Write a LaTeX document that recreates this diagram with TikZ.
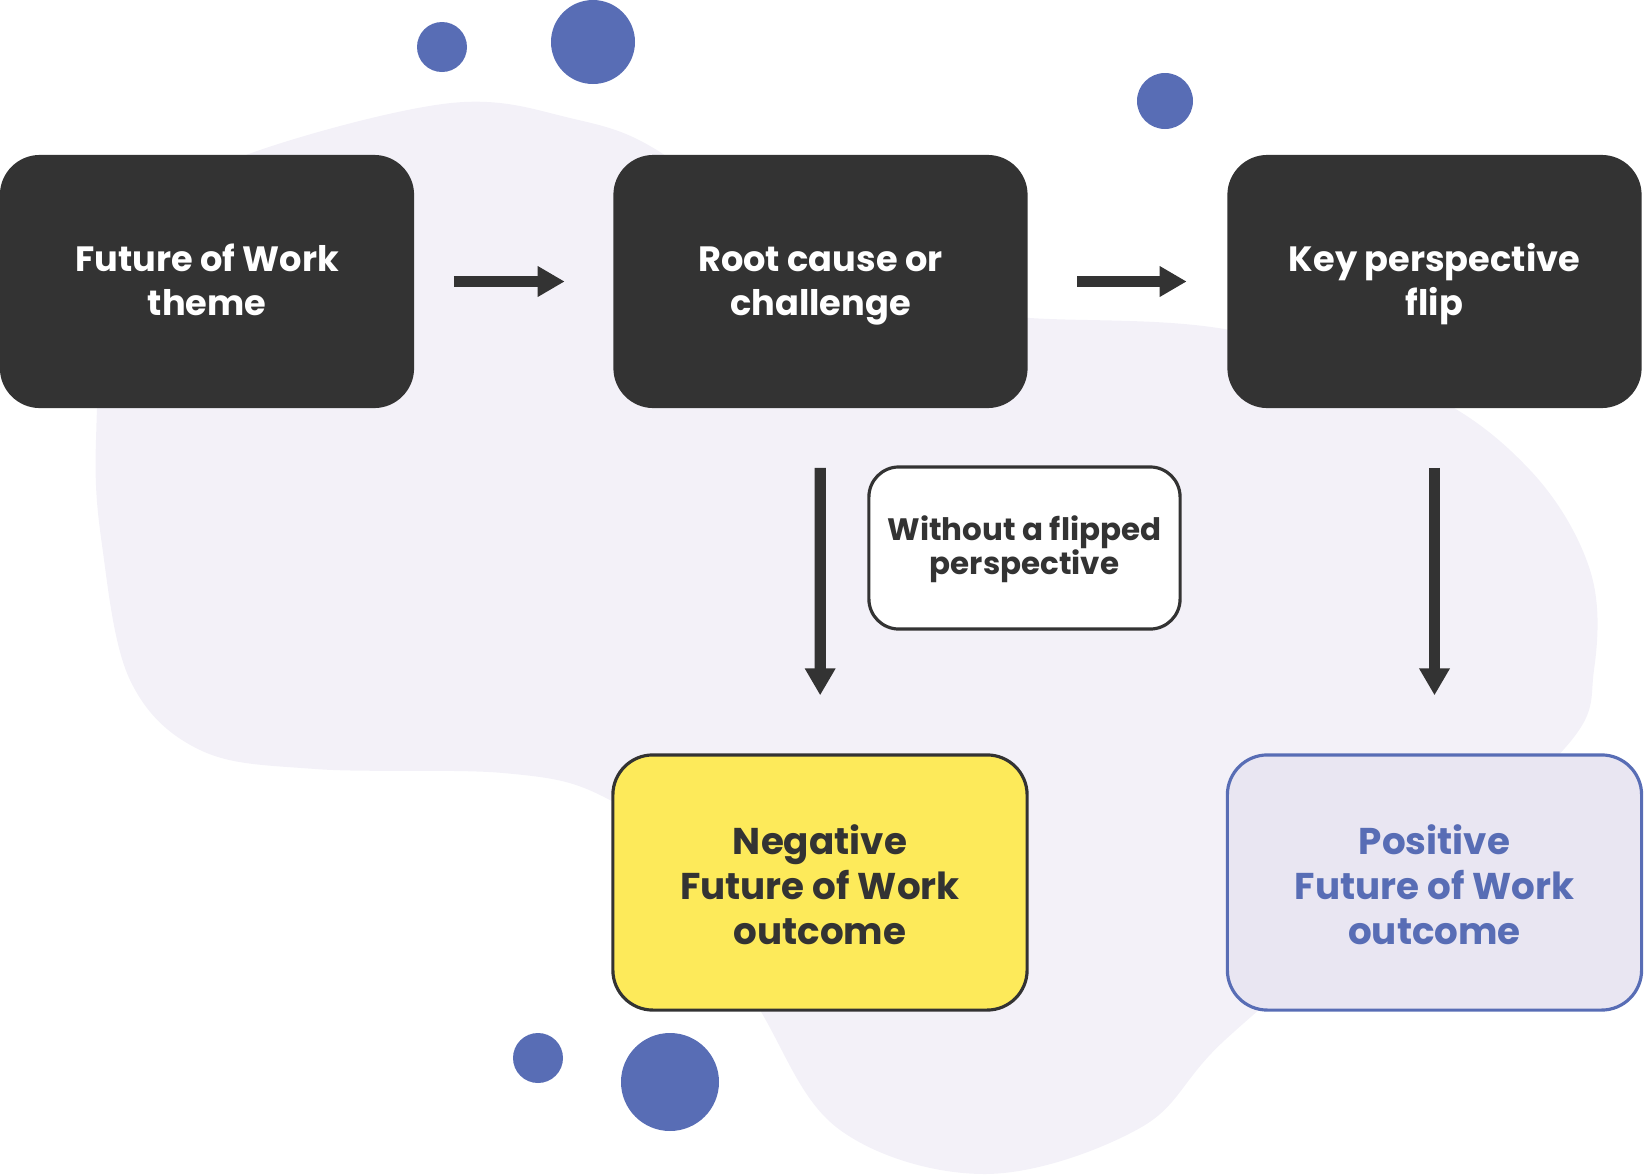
\documentclass[tikz,border=0pt]{standalone}
\usepackage{fontspec}
\setmainfont{Poppins}
\usetikzlibrary{arrows.meta}

\definecolor{darkbox}{HTML}{333333}
\definecolor{dotblue}{HTML}{586DB5}
\definecolor{blobfill}{HTML}{F3F1F8}
\definecolor{negfill}{HTML}{FDEA5A}
\definecolor{posfill}{HTML}{E9E6F2}

% top strut pushes the lines down a little
\newcommand{\tops}[1]{\rule{0pt}{#1}}

\tikzset{
  stepbox/.style={rectangle, rounded corners=0.4cm, minimum width=4.14cm,
    minimum height=2.53cm, align=center, inner sep=0pt},
  darkstep/.style={stepbox, fill=darkbox, text=white,
    font=\fontsize{10}{12.5}\selectfont\bfseries},
  outstep/.style={stepbox, line width=0.9pt, minimum height=2.55cm,
    font=\fontsize{10.6}{12.8}\selectfont\bfseries},
  negstep/.style={outstep, fill=negfill, draw=darkbox, text=darkbox},
  posstep/.style={outstep, fill=posfill, draw=dotblue, text=dotblue},
  notebox/.style={rectangle, rounded corners=0.3cm, fill=white, draw=darkbox,
    line width=0.9pt, minimum width=3.11cm, minimum height=1.62cm, align=center,
    text=darkbox, font=\fontsize{8.8}{9.8}\selectfont\bfseries},
  flow/.style={draw=darkbox, line width=3.2pt,
    -{Triangle[length=0.27cm, width=0.29cm]}},
  dot/.style={fill=dotblue}
}

\begin{document}
\begin{tikzpicture}[x=0.01cm, y=-0.01cm]
    \useasboundingbox (0,0) rectangle (1644,1175);
    % background blob
    \fill[blobfill] plot[smooth cycle, tension=0.6] coordinates {
      (451,103) (570,118) (660,152) (780,250) (900,308) (1030,318)
      (1230,330) (1420,390) (1530,470) (1590,570) (1594,670) (1565,748)
      (1400,890) (1225,1040) (1140,1128) (986,1174) (840,1130) (760,1010)
      (680,860) (600,795) (503,773) (315,769) (200,750) (130,680)
      (102,545) (96,440) (110,300) (170,200) (260,150)};
    % dots
    \fill[dot] (442,47) circle (25);
    \fill[dot] (593,42) circle (42);
    \fill[dot] (1165,101) circle (28);
    \fill[dot] (538,1058) circle (25);
    \fill[dot] (670,1082) circle (49);
    % steps
    \node[darkstep] (theme) at (207,281.5) {\tops{0.98em}Future of Work\\theme\vphantom{g}};
    \node[darkstep] (cause) at (820.5,281.5) {\tops{0.98em}Root cause or\\challenge\vphantom{g}};
    \node[darkstep] (flip) at (1434.5,281.5) {\tops{0.98em}Key perspective\\flip\vphantom{g}};
    \node[negstep] (neg) at (820,882.5) {\tops{1.17em}Negative\\Future of Work\\outcome\vphantom{g}};
    \node[posstep] (pos) at (1434.5,882.5) {\tops{1.17em}Positive\\Future of Work\\outcome\vphantom{g}};
    \node[notebox] (without) at (1024.5,548) {\tops{0.88em}Without a flipped\\perspective\vphantom{g}};
    % arrows
    \draw[flow, shorten <=0.39cm, shorten >=0.48cm] (theme) -- (cause);
    \draw[flow, shorten <=0.49cm, shorten >=0.40cm] (cause) -- (flip);
    \draw[flow, shorten <=0.59cm, shorten >=0.58cm] (cause) -- (neg);
    \draw[flow, shorten <=0.59cm, shorten >=0.58cm] (flip) -- (pos);
\end{tikzpicture}
\end{document}
